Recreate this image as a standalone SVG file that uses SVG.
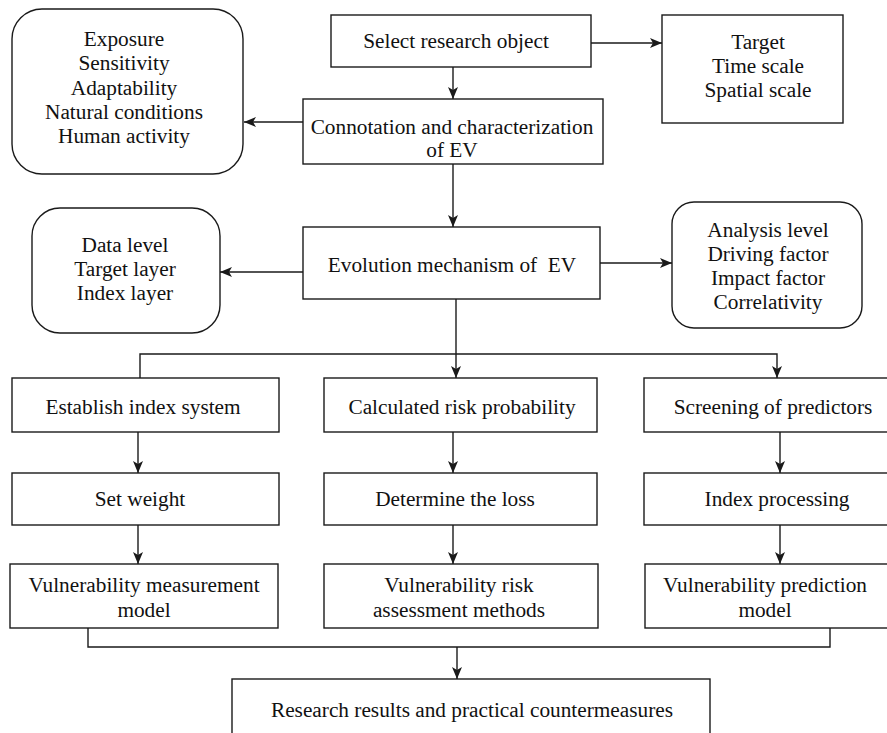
<svg xmlns="http://www.w3.org/2000/svg" width="887" height="733" viewBox="0 0 887 733">
<style>
.b{fill:#fff;stroke:#1a1a1a;stroke-width:1.4}
.t{font-family:"Liberation Serif","Times New Roman",serif;font-size:21.3px;fill:#111;text-anchor:middle}
.c{fill:none;stroke:#1a1a1a;stroke-width:1.4}
</style>
<defs>
<marker id="a" viewBox="0 0 12 10" refX="12" refY="5" markerWidth="12" markerHeight="10" markerUnits="userSpaceOnUse" orient="auto">
<path d="M0,0 L12,5 L0,10 L3,5 Z" fill="#1a1a1a"/>
</marker>
</defs>
<rect width="887" height="733" fill="#fff"/>
<g id="connectors">
<line class="c" x1="453" y1="67" x2="453" y2="99" marker-end="url(#a)"/>
<line class="c" x1="591" y1="43" x2="662" y2="43" marker-end="url(#a)"/>
<line class="c" x1="303" y1="122" x2="244" y2="122" marker-end="url(#a)"/>
<line class="c" x1="453" y1="164" x2="453" y2="227" marker-end="url(#a)"/>
<line class="c" x1="303" y1="272" x2="220" y2="272" marker-end="url(#a)"/>
<line class="c" x1="600" y1="263" x2="672" y2="263" marker-end="url(#a)"/>
<line class="c" x1="456" y1="299" x2="456" y2="378" marker-end="url(#a)"/>
<polyline class="c" points="140,378 140,354 777,354 777,378" marker-start="url(#a)" marker-end="url(#a)"/>
<line class="c" x1="138" y1="432" x2="138" y2="473" marker-end="url(#a)"/>
<line class="c" x1="453" y1="432" x2="453" y2="473" marker-end="url(#a)"/>
<line class="c" x1="780" y1="432" x2="780" y2="473" marker-end="url(#a)"/>
<line class="c" x1="138" y1="525" x2="138" y2="564" marker-end="url(#a)"/>
<line class="c" x1="453" y1="525" x2="453" y2="564" marker-end="url(#a)"/>
<line class="c" x1="780" y1="525" x2="780" y2="564" marker-end="url(#a)"/>
<polyline class="c" points="88,626 88,647 830,647 830,626"/>
<line class="c" x1="457" y1="647" x2="457" y2="679" marker-end="url(#a)"/>
</g>
<g id="n-select"><rect class="b" x="331" y="15" width="260" height="52"/><text class="t" x="456" y="48">Select research object</text></g>
<g id="n-target"><rect class="b" x="662" y="15" width="181" height="108"/><text class="t" x="758" y="49">Target</text><text class="t" x="758" y="73">Time scale</text><text class="t" x="758" y="97">Spatial scale</text></g>
<g id="n-exposure"><rect class="b" x="12" y="9" width="231" height="165" rx="30"/><text class="t" x="124" y="46">Exposure</text><text class="t" x="124" y="70">Sensitivity</text><text class="t" x="124" y="95">Adaptability</text><text class="t" x="124" y="119">Natural conditions</text><text class="t" x="124" y="143">Human activity</text></g>
<g id="n-connotation"><rect class="b" x="303" y="99" width="300" height="65"/><text class="t" x="452" y="134">Connotation and characterization</text><text class="t" x="452" y="157">of EV</text></g>
<g id="n-data"><rect class="b" x="32" y="208" width="188" height="125" rx="28"/><text class="t" x="125" y="252">Data level</text><text class="t" x="125" y="276">Target layer</text><text class="t" x="125" y="300">Index layer</text></g>
<g id="n-evolution"><rect class="b" x="303" y="227" width="297" height="72"/><text class="t" x="452" y="272" xml:space="preserve">Evolution mechanism of  EV</text></g>
<g id="n-analysis"><rect class="b" x="672" y="202" width="190" height="126" rx="22"/><text class="t" x="768" y="237">Analysis level</text><text class="t" x="768" y="261">Driving factor</text><text class="t" x="768" y="285">Impact factor</text><text class="t" x="768" y="309">Correlativity</text></g>
<g id="n-establish"><rect class="b" x="12" y="378" width="267" height="54"/><text class="t" x="143" y="414">Establish index system</text></g>
<g id="n-calculated"><rect class="b" x="324" y="378" width="273" height="54"/><text class="t" x="462" y="414">Calculated risk probability</text></g>
<g id="n-screening"><rect class="b" x="644" y="378" width="250" height="54"/><text class="t" x="773" y="414">Screening of predictors</text></g>
<g id="n-setweight"><rect class="b" x="12" y="473" width="267" height="52"/><text class="t" x="140" y="506">Set weight</text></g>
<g id="n-loss"><rect class="b" x="324" y="473" width="273" height="52"/><text class="t" x="455" y="506">Determine the loss</text></g>
<g id="n-indexproc"><rect class="b" x="644" y="473" width="250" height="52"/><text class="t" x="777" y="506">Index processing</text></g>
<g id="n-vmm"><rect class="b" x="10" y="564" width="268" height="64"/><text class="t" x="144" y="592">Vulnerability measurement</text><text class="t" x="144" y="617">model</text></g>
<g id="n-vram"><rect class="b" x="324" y="564" width="274" height="64"/><text class="t" x="459" y="592">Vulnerability risk</text><text class="t" x="459" y="617">assessment methods</text></g>
<g id="n-vpm"><rect class="b" x="645" y="564" width="250" height="64"/><text class="t" x="765" y="592">Vulnerability prediction</text><text class="t" x="765" y="617">model</text></g>
<g id="n-results"><rect class="b" x="232" y="679" width="478" height="70"/><text class="t" x="472" y="717">Research results and practical countermeasures</text></g>
</svg>
